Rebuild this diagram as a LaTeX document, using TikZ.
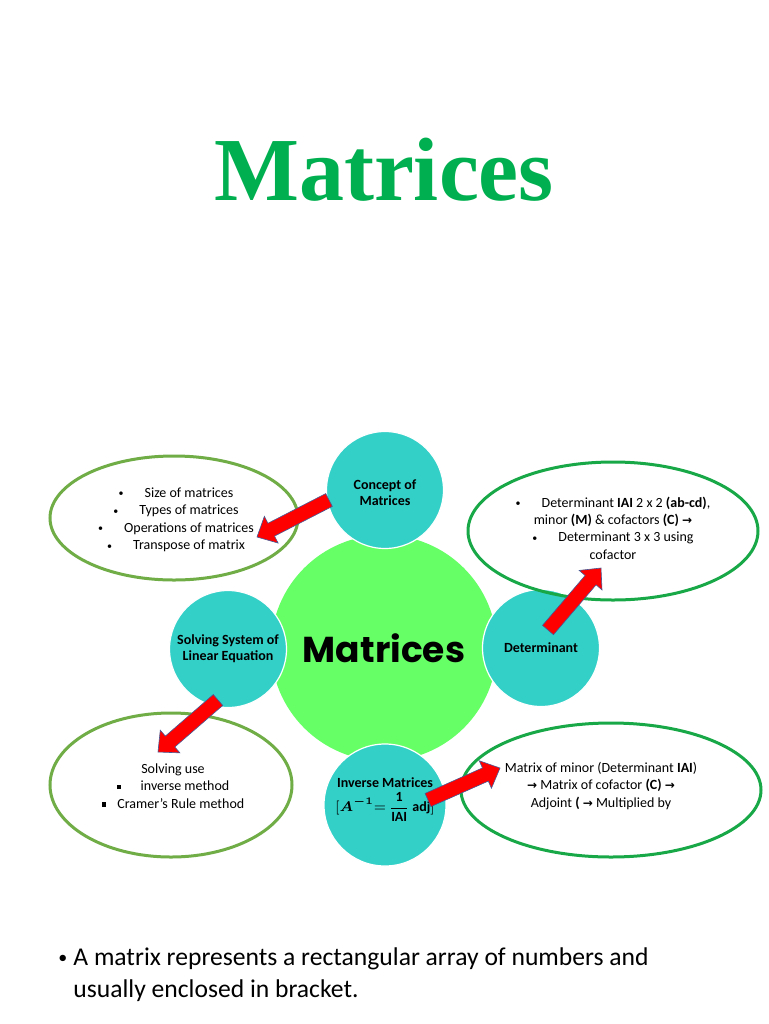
\documentclass[tikz,border=0pt]{standalone}
\usepackage{amsmath}
\usepackage{fontspec}
\setmainfont{Carlito}
\newfontfamily\titlefont{Liberation Serif}
\newfontfamily\gothic{Poppins}
\newfontfamily\dejavu{DejaVu Sans}
\usetikzlibrary{shapes.geometric,calc}
\definecolor{titlegreen}{RGB}{0,176,80}
\definecolor{biggreen}{RGB}{102,255,102}
\definecolor{tealc}{RGB}{51,208,200}
\definecolor{ellA}{RGB}{112,173,71}
\definecolor{ellB}{RGB}{24,168,72}
\definecolor{arrowedge}{RGB}{70,90,150}
\definecolor{arrowred}{RGB}{255,0,0}
\newcommand\arr{{\dejavu\bfseries\fontsize{6}{6}\selectfont →}}
\newcommand\sqb{\raisebox{0.25ex}{\rule{2.2pt}{2.2pt}}}
\newcommand\smb{\raisebox{0.1ex}{\fontsize{5}{5}\selectfont\textbullet}}
\newcommand\invformula{$\displaystyle[\boldsymbol{A}^{\boldsymbol{-1}}{=}\,\frac{\mathbf{1}}{\mathbf{IAI}}\,\mathbf{adj}]$}
\newcommand\blockarrow[2]{%
  \coordinate (h) at ($(#2)!8pt!(#1)$);
  \filldraw[blockarr] ($(#1)!3.6pt!90:(#2)$) -- ($(h)!3.6pt!-90:(#1)$) -- ($(h)!7.5pt!-90:(#1)$) -- (#2) -- ($(h)!7.5pt!90:(#1)$) -- ($(h)!3.6pt!90:(#1)$) -- ($(#1)!3.6pt!-90:(#2)$) -- cycle;}
\begin{document}
\begin{tikzpicture}[x=0.5pt,y=-0.5pt,
  hub/.style={circle, fill=biggreen, minimum size=113pt, inner sep=0},
  topic/.style={circle, fill=tealc, draw=white, line width=0.6pt, minimum size=58.5pt, inner sep=0},
  topictext/.style={align=center, font=\bfseries\fontsize{7}{8}\selectfont, inner sep=0},
  noteA/.style={ellipse, draw=ellA, line width=1.5pt, inner sep=0},
  noteB/.style={ellipse, draw=ellB, line width=1.5pt, inner sep=0},
  notetext/.style={align=center, font=\fontsize{7}{8.7}\selectfont, inner sep=0},
  blockarr/.style={fill=arrowred, draw=arrowedge, line width=0.3pt, line join=miter}]
\useasboundingbox (0,0) rectangle (768,1024);
\fill[white] (0,0) rectangle (768,1024);

% title
\node[anchor=base, text=titlegreen, font=\titlefont\bfseries\fontsize{45}{50}\selectfont, inner sep=0] (title) at (384,200) {Matrices};

% hub and topic circles
\node[hub] (hub) at (384,648) {};
\node[anchor=base, font=\gothic\bfseries\fontsize{18}{20}\selectfont, inner sep=0] (hubtext) at (384,662) {Matrices};

\node[topic] (concept) at (385,490) {};
\node[topictext] (concepttext) at (385,493) {Concept of\\Matrices};

\node[topic] (solving) at (228,649) {};
\node[topictext] (solvingtext) at (228,649) {Solving System of\\Linear Equation};

\node[topic] (determinant) at (541,648) {};
\node[topictext] (determinanttext) at (541,648) {Determinant};

\node[topic, minimum size=61pt] (inverse) at (385,805) {};
\node[topictext] (inversetext) at (385,800) {Inverse Matrices\\[1pt]\invformula};

% ellipses
\node[noteA, minimum width=124pt, minimum height=62pt] (sizes) at (174,518) {};
\node[notetext] (sizestext) at (176,520) {\smb\hspace{1.5em}Size of matrices\\
  \smb\hspace{1.5em}Types of matrices\\
  \smb\hspace{1.5em}Operations of matrices\\
  \smb\hspace{1.5em}Transpose of matrix};

\node[noteB, minimum width=145pt, minimum height=69pt] (dets) at (613,531) {};
\node[notetext] (detstext) at (613,528) {\smb\hspace{1.5em}Determinant \textbf{IAI} 2 x 2 \textbf{(ab-cd)},\\
  minor \textbf{(M)} \& cofactors \textbf{(C)} \arr\\
  \smb\hspace{1.5em}Determinant 3 x 3 using\\
  cofactor};

\node[noteA, minimum width=121pt, minimum height=72pt] (solve) at (171,785) {};
\node[notetext] (solvetext) at (173,786) {Solving use\\
  \sqb\hspace{1.4em}inverse method\\
  \sqb\hspace{0.8em}Cramer’s Rule method};

\node[noteB, minimum width=150pt, minimum height=67pt] (adj) at (611,790) {};
\node[notetext] (adjtext) at (601,786) {Matrix of minor (Determinant \textbf{IAI})\\
  \arr{} Matrix of cofactor \textbf{(C)} \arr\\
  Adjoint \textbf{(} \arr{} Multiplied by};

% arrows
\coordinate (a1s) at (329,500); \coordinate (a1e) at (257,537);
\coordinate (a2s) at (548,630); \coordinate (a2e) at (601,568);
\coordinate (a3s) at (218,700); \coordinate (a3e) at (158,752);
\coordinate (a4s) at (428,800); \coordinate (a4e) at (500,768);
\blockarrow{a1s}{a1e}
\blockarrow{a2s}{a2e}
\blockarrow{a3s}{a3e}
\blockarrow{a4s}{a4e}

% bottom text
\node[anchor=base west, inner sep=0, font=\fontsize{9}{10}\selectfont] (bullet) at (58,963) {\textbullet};
\node[anchor=base west, inner sep=0, align=left, font=\fontsize{12.8}{16}\selectfont] (bottomtext) at (73,997) {A matrix represents a rectangular array of numbers and\\usually enclosed in bracket.};
\end{tikzpicture}
\end{document}
